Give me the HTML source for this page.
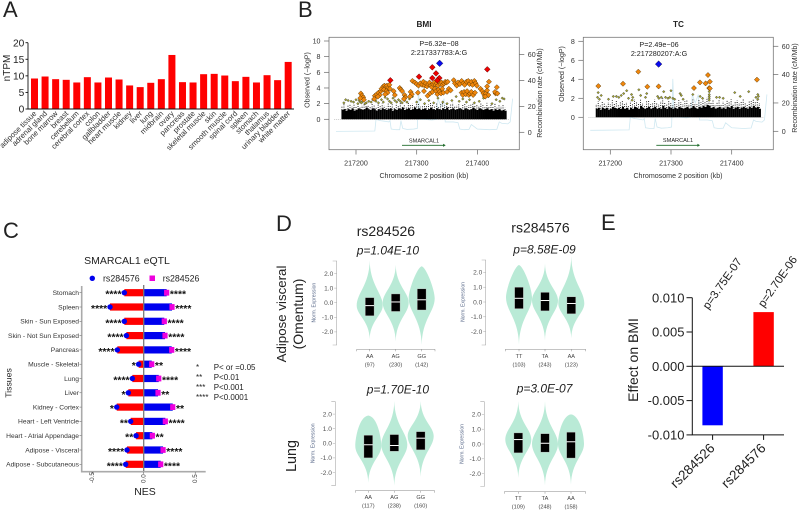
<!DOCTYPE html>
<html lang="en">
<head>
<meta charset="utf-8">
<title>SMARCAL1 multi-panel figure</title>
<style>
html,body{margin:0;padding:0;background:#fff;}
svg{display:block;font-family:"Liberation Sans",Arial,sans-serif;}
</style>
</head>
<body>
<svg id="fig" width="800" height="511" viewBox="0 0 800 511" xmlns="http://www.w3.org/2000/svg">
  <g font-size="22" fill="#222">
    <text x="3" y="17">A</text>
    <text x="298" y="17">B</text>
    <text x="3" y="238">C</text>
    <text x="276" y="231">D</text>
    <text x="601" y="230">E</text>
  </g>
  <g id="panelA">
    <text transform="translate(10,68) rotate(-90)" text-anchor="middle" font-size="10" fill="#222">nTPM</text>
  </g>
  <g id="panelB1">
    <text x="424" y="27" text-anchor="middle" font-size="8.2" font-weight="bold" fill="#222">BMI</text>
    <text x="439" y="46" text-anchor="middle" font-size="7.2" fill="#222">P=6.32e−08</text>
    <text x="439" y="55" text-anchor="middle" font-size="7.2" fill="#222">2:217337783:A:G</text>
    <text x="424" y="178" text-anchor="middle" font-size="7.1" fill="#333">Chromosome 2 position (kb)</text>
    <text transform="translate(309.5,80) rotate(-90)" text-anchor="middle" font-size="7.1" fill="#333">Observed (−logP)</text>
    <text transform="translate(542,93) rotate(-90)" text-anchor="middle" font-size="7.1" fill="#333">Recombination rate (cM/Mb)</text>
    <text x="424" y="142.5" text-anchor="middle" font-size="5.6" fill="#222">SMARCAL1</text>
  </g>
  <g id="panelB2">
    <text x="678.5" y="27" text-anchor="middle" font-size="8.2" font-weight="bold" fill="#222">TC</text>
    <text x="659" y="47" text-anchor="middle" font-size="7.2" fill="#222">P=2.49e−06</text>
    <text x="659" y="56" text-anchor="middle" font-size="7.2" fill="#222">2:217280207:A:G</text>
    <text x="678" y="178" text-anchor="middle" font-size="7.1" fill="#333">Chromosome 2 position (kb)</text>
    <text transform="translate(564,74) rotate(-90)" text-anchor="middle" font-size="7.1" fill="#333">Observed (−logP)</text>
    <text transform="translate(797,88) rotate(-90)" text-anchor="middle" font-size="7.1" fill="#333">Recombination rate (cM/Mb)</text>
    <text x="678" y="142" text-anchor="middle" font-size="5.6" fill="#222">SMARCAL1</text>
  </g>
  <g id="panelC">
    <text x="127" y="264" text-anchor="middle" font-size="10.5" fill="#222">SMARCAL1 eQTL</text>
    <circle cx="92.3" cy="278.3" r="2.7" fill="#0000ee"/>
    <text x="103" y="281.5" font-size="8.8" fill="#222">rs284576</text>
    <rect x="149.5" y="275.5" width="5.5" height="5.5" fill="#ee00dd"/>
    <text x="162.7" y="281.5" font-size="8.8" fill="#222">rs284526</text>
    <text x="145" y="495" text-anchor="middle" font-size="10.5" fill="#222">NES</text>
    <text transform="translate(11.5,383) rotate(-90)" text-anchor="middle" font-size="8.7" fill="#222">Tissues</text>
    <g font-size="8" fill="#222">
      <text x="196" y="370">*</text>
      <text x="213.7" y="370">P&lt; or =0.05</text>
      <text x="196" y="380">**</text>
      <text x="213.7" y="380">P&lt;0.01</text>
      <text x="196" y="390">***</text>
      <text x="213.7" y="390">P&lt;0.001</text>
      <text x="196" y="400">****</text>
      <text x="213.7" y="400">P&lt;0.0001</text>
    </g>
  </g>
  <g id="panelD">
    <text x="356.7" y="236" font-size="14" fill="#222">rs284526</text>
    <text x="511.3" y="232.7" font-size="14" fill="#222">rs284576</text>
    <text x="356.7" y="254.3" font-size="12" font-style="italic" fill="#222">p=1.04E-10</text>
    <text x="513.3" y="253.7" font-size="12" font-style="italic" fill="#222">p=8.58E-09</text>
    <text x="366.7" y="393.3" font-size="12" font-style="italic" fill="#222">p=1.70E-10</text>
    <text x="516.7" y="392.7" font-size="12" font-style="italic" fill="#222">p=3.0E-07</text>
    <text transform="translate(286,314) rotate(-90)" text-anchor="middle" font-size="13.3" fill="#222">Adipose visceral</text>
    <text transform="translate(303,314) rotate(-90)" text-anchor="middle" font-size="14" fill="#222">(Omentum)</text>
    <text transform="translate(296,456) rotate(-90)" text-anchor="middle" font-size="14.3" fill="#222">Lung</text>
  </g>
  <g id="panelE">
    <text transform="translate(638,360) rotate(-90)" text-anchor="middle" font-size="14" fill="#222">Effect on BMI</text>
  </g>
</svg>
<script>
/* ---------- Panel A data ---------- */
const aCategories = ["adipose tissue","adrenal gland","bone marrow","breast","cerebellum","cerebral cortex","colon","gallbladder","heart muscle","kidney","liver","lung","midbrain","ovary","pancreas","prostate","skeletal muscle","skin","smooth muscle","spinal cord","spleen","stomach","thalamus","urinary bladder","white matter"];
const aValues = [9.2,9.8,9.0,8.8,8.0,9.6,8.0,9.5,8.9,7.1,6.6,7.9,9.0,16.3,8.1,8.0,10.5,10.6,10.1,8.4,9.7,8.0,10.2,8.7,14.2];
const aTicks = [0,5,10,15,20];

/* ---------- Panel B data (kb offsets are from 217200) ---------- */
const locusXTicks = [217200,217300,217400];
const bmiYTicks = [0,2,4,6,8,10];
const bmiRecombTicks = [0,20,40,60];
const tcYTicks = [0,2,4,6,8];
const tcRecombTicks = [0,20,40,60];
const recombKb = [-33,-10,15,31,33,40,48,54,56,58,66,72,74,77,84,95,101,103,105,112,125,133,135,140,145,147,160,168,171,178,186,190,200,220,232,236,240,250,254,258];
const recombRate = [0.7,0.8,0.9,1,10,9,8.5,8,9,2.5,2,2,9,3,2.2,2.5,3,37,10,10,9.5,10,26,20,26,8,8,7.5,2.5,2,2.2,6,2.5,2,2.3,8,7,6.5,8,26];
const bmiDense = [1.2,1.3,1.1,1.3,1.2,1.4,1.1,1.2,1.4,1.3,1.2,1.3,1.5,1.3,1.2,1.4,1.3,1.1,1.3,1.2,1.4,1.3,1.2,1.3,1.4,1.1,1.3,1.2,1.4,1.3,1.5,1.2,1.3,1.4,1.2,1.3,1.5,1.3,1.4,1.2,1.3,1.4,1.2,1.3,1.5,1.3,1.2,1.4,1.3,1.2,1.4,1.3,1.5,1.2,1.3,1.4,1.2,1.3,1.4,1.3,1.2,1.4,1.3,1.2,1.3,1.5,1.3,1.2,1.4,1.3,1.2,1.3,1.4,1.2,1.3,1.1,1.3,1.2,1.3,1.1,1.2,1.1];
const bmiSparse = [1.6,1.9,1.5,1.8,2.0,1.6,1.9,1.7,2.1,1.6,1.8,2.0,1.7,1.9,1.6,2.1,1.8,1.6,1.9,1.7,2.0,1.8,1.6,2.1,1.7,1.9,1.6,2.0,1.8,2.1,1.7,1.9,1.6,2.2,1.8,2.0,1.7,1.9,2.1,1.6,1.8,2.0,1.7,1.9,2.2,1.8,1.6,2.0,1.7,1.9,2.1,1.8,2.0,1.6,1.9,2.1,1.7,1.8,2.0,1.6,1.9,2.1,1.7,1.8,2.0,2.1,1.7,1.9,1.6,2.0,1.8,1.7,2.1,1.6,1.9,1.7,2.0,1.6,1.8,1.7,1.9,1.5];
const tcDense = [0.9,1.0,0.8,1.0,0.9,1.0,0.8,0.9,1.1,1.0,0.9,1.0,0.9,1.1,0.9,1.0,0.8,1.0,0.9,1.1,1.0,0.9,1.2,1.0,0.9,1.0,1.1,0.9,1.0,1.1,0.9,1.0,0.9,1.2,1.0,0.9,1.1,1.0,0.9,1.0,0.9,1.1,1.0,0.9,1.0,1.1,0.9,1.0,1.2,1.0,0.9,1.1,1.0,1.2,1.1,1.3,1.2,1.0,1.1,0.9,1.0,1.1,0.9,1.0,0.9,1.1,1.0,1.2,0.9,1.0,1.1,0.9,1.0,1.1,1.0,0.9,1.1,1.0,1.2,1.0,1.1,0.9];
const tcSparse = [1.4,1.7,1.3,1.6,1.5,1.2,1.6,1.4,1.8,1.5,1.7,1.3,1.6,1.8,1.4,1.6,1.3,1.7,1.5,1.9,1.6,1.4,1.9,1.5,1.3,1.7,1.8,1.4,1.6,1.9,1.5,1.4,1.7,2.0,1.6,1.4,1.8,1.5,1.3,1.7,1.4,1.8,1.6,1.4,1.7,1.9,1.4,1.6,1.9,1.5,1.4,1.8,1.6,2.0,1.7,2.1,1.9,1.6,1.8,1.4,1.6,1.8,1.4,1.7,1.5,1.8,1.6,1.9,1.4,1.6,1.8,1.5,1.7,1.9,1.6,1.4,1.8,1.7,1.9,1.6,1.8,1.5];
const bmiOlive = [[-20,2.1],[-17,2.5],[-13,2.4],[-8,2.3],[-4,2.2],[0,2.5],[3,2.0],[5,2.4],[7,2.2],[9,2.1],[14,2.5],[17,2.1],[21,2.3],[25,2.2],[28,2.5],[33,2.3],[37,2.1],[42,2.5],[45,2.2],[48,2.8],[52,2.6],[55,2.3],[58,2.1],[61,2.7],[64,2.4],[67,2.2],[70,2.5],[73,2.3],[76,2.1],[80,2.4],[84,2.2],[88,2.6],[93,2.9],[100,2.2],[106,2.5],[113,2.0],[120,2.4],[128,2.1],[135,2.7],[143,2.2],[150,2.0],[158,2.4],[165,2.9],[170,2.3],[176,2.6],[182,2.2],[187,2.5],[195,2.1],[203,2.3],[210,2.7],[218,2.9],[224,2.0],[231,2.5],[237,2.3],[241,2.7],[244,2.6],[6,2.6],[11,2.3],[15,2.0]];
const bmiOrange = [[8,3.3],[10,3.0],[12,2.8],[7,2.7],[13,2.5],[31,3.0],[34,3.2],[37,3.4],[39,3.1],[36,2.9],[41,3.6],[30,2.6],[42,3.9],[45,4.2],[47,4.3],[49,4.1],[51,4.3],[53,4.0],[55,4.4],[46,3.8],[50,3.6],[52,3.4],[48,3.2],[56,3.9],[62,3.6],[64,3.1],[72,4.0],[74,3.8],[76,3.6],[80,3.1],[81,2.8],[79,2.6],[90,3.5],[92,3.2],[89,2.9],[93,4.9],[97,4.7],[100,4.5],[103,4.3],[106,4.6],[109,4.4],[111,4.8],[113,4.3],[115,4.6],[117,4.2],[119,4.5],[121,4.7],[123,4.3],[125,4.1],[127,4.5],[129,4.7],[131,4.4],[133,4.6],[135,4.3],[137,4.8],[139,4.5],[141,4.7],[143,4.4],[145,4.6],[147,4.8],[149,4.7],[151,4.8],[102,3.4],[112,3.6],[118,3.0],[122,3.3],[126,3.5],[130,3.9],[132,3.6],[134,3.2],[136,3.8],[138,3.5],[140,3.3],[142,3.9],[144,3.4],[150,3.5],[153,3.9],[156,3.7],[161,5.0],[163,4.6],[166,4.3],[168,4.7],[171,4.5],[174,4.9],[177,4.6],[179,4.4],[182,4.8],[185,4.9],[187,4.5],[190,4.8],[192,4.4],[195,4.9],[197,4.6],[199,4.3],[174,3.4],[176,3.1],[178,3.5],[181,3.2],[183,3.6],[186,3.1],[188,3.3],[190,3.5],[193,3.1],[196,3.4],[205,3.9],[208,3.6],[210,3.3],[212,3.0],[214,3.3],[216,3.7],[218,3.1],[216,4.2],[219,4.8],[213,2.9],[230,3.3],[232,4.1],[229,3.5],[233,3.3]];
const bmiRed = [[125.7,6.64],[131.8,5.87],[103.8,5.44],[125.7,5.27],[137.3,5.27],[134,4.98],[56.6,4.98],[216.3,6.38]];
const bmiLead = [[137.8,7.15]];
const tcOlive = [[-20,2.6],[-21,2.1],[-15,2.3],[-18,1.9],[-3,1.9],[5,2.2],[10,2.2],[14,2.1],[18,2.3],[22,2.5],[27,2.8],[30,2.0],[35,2.4],[37,2.1],[36,1.8],[47,2.9],[50,2.3],[58,2.1],[60,2.5],[78,2.2],[80,2.0],[84,2.1],[88,2.7],[91,2.1],[95,2.0],[98,2.1],[100,2.8],[103,2.0],[106,1.9],[115,2.5],[117,2.3],[120,1.9],[136,2.4],[148,2.2],[152,2.0],[163,2.7],[163,2.4],[163,2.2],[163,2.0],[163,1.8],[175,2.1],[180,2.1],[186,2.0],[205,2.6],[214,2.2],[228,2.7],[240,2.1],[243,2.4],[244,2.2],[243,1.9]];
const tcOrange = [[-19.7,3.29],[20.9,3.53],[46.1,4.8],[61,3.22],[79.6,3.25],[137.8,3.08],[147.7,3.67],[157,3.57],[160.9,4.45],[164,3.75],[163,3.08],[164,3.04],[241.6,3.96]];
const tcLead = [[79.6,5.6]];

/* ---------- Panel C data ---------- */
const cTissues = ["Stomach","Spleen","Skin - Sun Exposed","Skin - Not Sun Exposed","Pancreas","Muscle - Skeletal","Lung","Liver","Kidney - Cortex","Heart - Left Ventricle","Heart - Atrial Appendage","Adipose - Visceral","Adipose - Subcutaneous"];
const cRs284576 = [-0.188,-0.327,-0.188,-0.168,-0.256,-0.049,-0.11,-0.149,-0.262,-0.126,-0.074,-0.162,-0.175];
const cRs284526 = [0.223,0.275,0.2,0.207,0.272,0.078,0.146,0.139,0.282,0.21,0.084,0.188,0.165];
const cStarsLeft = ["****","****","****","****","****","*","****","*","*","**","**","****","****"];
const cStarsRight = ["****","****","****","****","****","**","****","**","**","****","**","****","****"];
const cTicks = [-0.5,0,0.5];

/* ---------- Panel D data: one row per plot, one column per genotype ---------- */
const dGenotypes = [["AA","AG","GG"],["TT","TA","AA"],["AA","AG","GG"],["TT","TA","AA"]];
const dCounts = [[97,230,142],[103,243,123],[117,238,160],[109,248,158]];
const dTop = [[2.9,2.6,2.5],[2.5,2.6,3.1],[1.9,2.9,2.9],[2.9,2.9,2.0]];
const dBottom = [[-2.5,-2.65,-2.9],[-2.9,-2.6,-2.45],[-2.7,-2.9,-2.3],[-2.3,-2.8,-2.75]];
const dMode = [[-0.2,0,0.3],[0.3,0.1,-0.1],[-0.2,-0.1,0.5],[0.3,0,0]];
const dDome = [[0,0,0.35],[0.35,0,0],[0.7,0,0],[0,0,0.7]];
const dQ3 = [[0.35,0.6,0.95],[1.0,0.65,0.35],[0.55,0.6,0.8],[0.75,0.7,0.8]];
const dQ1 = [[-0.9,-0.6,-0.5],[-0.45,-0.6,-0.8],[-1.0,-0.55,-0.45],[-0.6,-0.55,-0.95]];
const dMedian = [[-0.2,0.05,0.2],[0.25,0.1,-0.1],[-0.1,-0.15,0.35],[0.3,0.05,0.15]];
const dTicks = [-2,-1,0,1,2];

/* ---------- Panel E data ---------- */
const eCategories = ["rs284526","rs284576"];
const eValues = [-0.0086,0.0079];
const ePValues = ["p=3.75E-07","p=2.70E-06"];
const eTicks = [-0.01,-0.005,0,0.005,0.01];

/* ---------- helpers ---------- */
const NS = "http://www.w3.org/2000/svg";
function mk(parent, tag, attrs){
  const el = document.createElementNS(NS, tag);
  for (const k in attrs) el.setAttribute(k, attrs[k]);
  parent.appendChild(el);
  return el;
}
function txt(parent, str, attrs){
  const el = mk(parent, "text", attrs);
  el.textContent = str;
  return el;
}

/* ---------- Panel A ---------- */
(function(){
  const g = document.getElementById("panelA");
  const y = v => 109 - v * 3.315;
  const x = i => 34.5 + i * 10.57;
  aValues.forEach((v,i)=>{
    const b = mk(g,"rect",{x:x(i)-3.5,y:y(v),width:7,height:y(0)-y(v),fill:"#ff0000"});
    
    
    const t = txt(g,aCategories[i],{transform:`translate(${x(i)+2.5},114) rotate(-45)`,"text-anchor":"end","font-size":7.6,fill:"#333"});
    
    
  });
  const ax = mk(g,"path",{d:`M28 ${y(20)}V${y(0)}H294`,fill:"none",stroke:"#111","stroke-width":0.9});
  
  
  aTicks.forEach(v=>{
    const k = mk(g,"line",{x1:25.5,x2:28,y1:y(v),y2:y(v),stroke:"#111","stroke-width":0.9});
    
    
    const t = txt(g,String(v),{x:24.3,y:y(v)+3.6,"text-anchor":"end","font-size":10.2,fill:"#222"});
    
    
  });
})();

/* ---------- Panel B ---------- */
function diamond(g, cx, cy, r, fill, stroke){
  return mk(g,"polygon",{points:`${cx},${cy-r} ${cx+r},${cy} ${cx},${cy+r} ${cx-r},${cy}`,fill:fill,stroke:stroke,"stroke-width":0.45});
}
function drawLocus(g, c, yTicks, rTicks, dense, sparse, olive, orange, red, lead){
  const x = kb => c.x200 + kb * 0.607;
  const y = v => c.y0 - v * c.yu;
  const r = v => c.r0 - v * c.ru;
  const frame = mk(g,"rect",{x:c.l,y:37.3,width:c.r-c.l,height:112.4,fill:"none",stroke:"#777","stroke-width":0.8});
  
  
  const base = mk(g,"line",{x1:x(-36),x2:x(252),y1:y(0),y2:y(0),stroke:"#aaa","stroke-width":0.6,"stroke-dasharray":"1 1"});
  
  
  const pts = recombKb.map((k,i)=>x(k)+","+r(recombRate[i])).join(" ");
  const line = mk(g,"polyline",{points:pts,fill:"none",stroke:"#cfe8f1","stroke-width":0.8});
  
  
  const bw = 272 / dense.length;
  dense.forEach((v,i)=>{
    const k = -24 + i * bw;
    const s = mk(g,"line",{x1:x(k)+0.5,x2:x(k)+0.5,y1:y(v),y2:y(sparse[i]),stroke:"#111","stroke-width":1,"stroke-dasharray":"0.9 1.4","stroke-dashoffset":(i*0.7)%2.3});
    
    
    const b = mk(g,"rect",{x:x(k),y:y(v),width:bw*0.607+0.1,height:y(0)-y(v),fill:"#000"});
    
    
  });
  olive.forEach(p=>{
    const d = diamond(g,x(p[0]),y(p[1]),1.3,"#a3a32a","#444");
    
    
  });
  orange.forEach(p=>{
    const d = diamond(g,x(p[0]),y(p[1]),2.6,"#f0860c","#4a3000");
    
    
  });
  red.forEach(p=>{
    const d = diamond(g,x(p[0]),y(p[1]),2.9,"#ee0000","#400");
    
    
  });
  lead.forEach(p=>{
    const d = diamond(g,x(p[0]),y(p[1]),3.3,"#0a0aee","#113");
    
    
  });
  yTicks.forEach(v=>{
    const k = mk(g,"line",{x1:c.l-5,x2:c.l,y1:y(v),y2:y(v),stroke:"#666","stroke-width":0.7});
    
    
    const t = txt(g,String(v),{x:c.l-8.5,y:y(v)+2.5,"text-anchor":"end","font-size":7.1,fill:"#333"});
    
    
  });
  rTicks.forEach(v=>{
    const k = mk(g,"line",{x1:c.r,x2:c.r+5,y1:r(v),y2:r(v),stroke:"#666","stroke-width":0.7});
    
    
    const t = txt(g,String(v),{x:c.r+8.5,y:r(v)+2.5,"font-size":7.1,fill:"#333"});
    
    
  });
  locusXTicks.forEach(v=>{
    const k = mk(g,"line",{x1:x(v-217200),x2:x(v-217200),y1:149.7,y2:154.5,stroke:"#666","stroke-width":0.7});
    
    
    const t = txt(g,String(v),{x:x(v-217200),y:165.7,"text-anchor":"middle","font-size":7.1,fill:"#333"});
    
    
  });
  const gene = mk(g,"line",{x1:x(75.8),x2:x(146),y1:145.3,y2:145.3,stroke:"#1e6b2a","stroke-width":0.9});
  
  
  const ah = mk(g,"polygon",{points:`${x(147.8)},145.3 ${x(143.5)},143.7 ${x(143.5)},146.9`,fill:"#1e6b2a"});
  
  
}
drawLocus(document.getElementById("panelB1"),{l:329,r:519.3,x200:356,y0:119.3,yu:7.83,r0:132.3,ru:1.295},bmiYTicks,bmiRecombTicks,bmiDense,bmiSparse,bmiOlive,bmiOrange,bmiRed,bmiLead);
drawLocus(document.getElementById("panelB2"),{l:583.3,r:773.3,x200:610.3,y0:117.3,yu:9.5,r0:131.3,ru:1.417},tcYTicks,tcRecombTicks,tcDense,tcSparse,tcOlive,tcOrange,[],tcLead);

/* ---------- Panel C ---------- */
(function(){
  const g = document.getElementById("panelC");
  const x = v => 143.7 + v * 103;
  const y = i => 292.7 + i * 14.3;
  const ax = mk(g,"path",{d:"M81.7 286V471.7H205.7",fill:"none",stroke:"#aaa","stroke-width":1.6});
  
  
  cTissues.forEach((name,i)=>{
    const rb = mk(g,"rect",{x:x(cRs284576[i]),y:y(i)-3.6,width:x(0)-x(cRs284576[i]),height:7.2,fill:"#ff0000"});
    
    
    const bb = mk(g,"rect",{x:x(0),y:y(i)-3.6,width:x(cRs284526[i])-x(0),height:7.2,fill:"#0000ee"});
    
    
    const m = mk(g,"rect",{x:x(cRs284526[i])-2.6,y:y(i)-2.9,width:5.2,height:5.8,fill:"#ee00dd"});
    
    
    const d = mk(g,"circle",{cx:x(cRs284576[i]),cy:y(i),r:2.7,fill:"#0000ee"});
    
    
    const sl = txt(g,cStarsLeft[i],{x:x(cRs284576[i])-2.8,y:y(i)+5,"text-anchor":"end","font-size":10.4,"font-weight":"bold",fill:"#111"});
    
    
    const sr = txt(g,cStarsRight[i],{x:x(cRs284526[i])+3.2,y:y(i)+5,"font-size":10.4,"font-weight":"bold",fill:"#111"});
    
    
    const t = txt(g,name,{x:79,y:y(i)+2.3,"text-anchor":"end","font-size":6.7,fill:"#333"});
    
    
    const k = mk(g,"line",{x1:79.5,x2:81.5,y1:y(i),y2:y(i),stroke:"#555","stroke-width":0.5});
    
    
  });
  const z = mk(g,"line",{x1:x(0),x2:x(0),y1:285,y2:471,stroke:"#777","stroke-width":1.3});
  
  
  cTicks.forEach(v=>{
    const t = txt(g,v.toFixed(1),{transform:`translate(${x(v)+2},483) rotate(-90)`,"font-size":6.3,fill:"#333"});
    
    
    const k = mk(g,"line",{x1:x(v),x2:x(v),y1:472,y2:474,stroke:"#555","stroke-width":0.5});
    
    
  });
})();

/* ---------- Panel D ---------- */
function drawViolinPlot(g, c, p){
  const y = v => c.y0 - v * c.u;
  const w = 13;
  dTop[p].forEach((top,i)=>{
    const cx = c.cx[i], T = y(top), B = y(dBottom[p][i]), M = y(dMode[p][i]), dome = dDome[p][i];
    const lo = B - M, up = M - T;
    const cu = dome > 0 ? w * dome : w * 0.03;
    const upY = dome > 0 ? T + up * 0.04 : T + up * 0.55;
    const path = `M${cx} ${B}C${cx-w*0.03} ${B-lo*0.55} ${cx-w} ${M+lo*0.28} ${cx-w} ${M}C${cx-w} ${M-up*0.28} ${cx-cu} ${upY} ${cx} ${T}C${cx+cu} ${upY} ${cx+w} ${M-up*0.28} ${cx+w} ${M}C${cx+w} ${M+lo*0.28} ${cx+w*0.03} ${B-lo*0.55} ${cx} ${B}Z`;
    const v = mk(g,"path",{d:path,fill:"#b9ead6"});
    
    
    const bx = mk(g,"rect",{x:cx-4.4,y:y(dQ3[p][i]),width:8.8,height:y(dQ1[p][i])-y(dQ3[p][i]),fill:"#000",stroke:"#ccc","stroke-width":0.4});
    
    
    const md = mk(g,"line",{x1:cx-4.4,x2:cx+4.4,y1:y(dMedian[p][i]),y2:y(dMedian[p][i]),stroke:"#fff","stroke-width":1});
    
    
    const lb = txt(g,dGenotypes[p][i],{x:cx,y:c.lab,"text-anchor":"middle","font-size":5.6,fill:"#444"});
    
    
    const ct = txt(g,"("+dCounts[p][i]+")",{x:cx,y:c.lab+8.5,"text-anchor":"middle","font-size":5.6,fill:"#444"});
    
    
    const k = mk(g,"line",{x1:cx,x2:cx,y1:c.br,y2:c.br+2,stroke:"#888","stroke-width":0.5});
    
    
  });
  const ax = mk(g,"path",{d:`M${c.ax-4} ${c.t}H${c.ax}V${c.b}H${c.ax-4}`,fill:"none",stroke:"#aaa","stroke-width":0.6});
  
  
  const br = mk(g,"path",{d:`M${c.bl} ${c.br+2}V${c.br}H${c.brr}V${c.br+2}`,fill:"none",stroke:"#888","stroke-width":0.5});
  
  
  dTicks.forEach(v=>{
    const k = mk(g,"line",{x1:c.ax-2.5,x2:c.ax,y1:y(v),y2:y(v),stroke:"#aaa","stroke-width":0.5});
    
    
    const t = txt(g,v.toFixed(1),{x:c.ax-3.4,y:y(v)+2.3,"text-anchor":"end","font-size":6.6,fill:"#555"});
    
    
  });
  const yt = txt(g,"Norm. Expression",{transform:`translate(${c.ax-21},${c.y0}) rotate(-90)`,"text-anchor":"middle","font-size":5,fill:"#5a6a8a"});
  
  
}
(function(){
  const g = document.getElementById("panelD");
  drawViolinPlot(g,{y0:302.7,u:14.6,ax:336.7,t:261,b:345,cx:[369.7,395.7,421.7],br:349.3,bl:356.7,brr:435,lab:358},0);
  drawViolinPlot(g,{y0:302,u:14.8,ax:485.7,t:260,b:345,cx:[519,545,571.3],br:349.3,bl:505.3,brr:585.7,lab:358},1);
  drawViolinPlot(g,{y0:443.3,u:14.6,ax:335.3,t:401.7,b:485.7,cx:[368.3,394.3,420.7],br:490.7,bl:355.3,brr:434.7,lab:499},2);
  drawViolinPlot(g,{y0:444,u:14.8,ax:484.3,t:401.7,b:486.5,cx:[518.3,545,571],br:491.7,bl:504.3,brr:585.7,lab:500},3);
})();

/* ---------- Panel E ---------- */
(function(){
  const g = document.getElementById("panelE");
  const y = v => 366.3 - v * 6860;
  const x = i => 712.6 + i * 51;
  const colors = ["#0000ff","#ff0000"];
  eValues.forEach((v,i)=>{
    const top = Math.min(y(v),y(0));
    const b = mk(g,"rect",{x:x(i)-10.2,y:top,width:20.4,height:Math.abs(y(v)-y(0)),fill:colors[i]});
    
    
    const k = mk(g,"line",{x1:x(i),x2:x(i),y1:y(-0.01),y2:y(-0.01)+5,stroke:"#111","stroke-width":1});
    
    
    const t = txt(g,eCategories[i],{transform:`translate(${x(i)+3},449) rotate(-45)`,"text-anchor":"end","font-size":13.5,fill:"#222"});
    
    
    const p = txt(g,ePValues[i],{transform:`translate(${708.3+i*55.4},${310-i*2}) rotate(-55)`,"font-size":11.4,fill:"#222"});
    
    
  });
  const ax = mk(g,"path",{d:`M692.3 ${y(0.01)}V${y(-0.01)}H784`,fill:"none",stroke:"#111","stroke-width":1});
  
  
  const z = mk(g,"line",{x1:692.3,x2:784,y1:y(0),y2:y(0),stroke:"#111","stroke-width":1});
  
  
  eTicks.forEach(v=>{
    const k = mk(g,"line",{x1:686.5,x2:692.3,y1:y(v),y2:y(v),stroke:"#111","stroke-width":1});
    
    
    const t = txt(g,v.toFixed(3),{x:684.5,y:y(v)+4.6,"text-anchor":"end","font-size":13,fill:"#222"});
    
    
  });
})();
</script>
</body>
</html>
